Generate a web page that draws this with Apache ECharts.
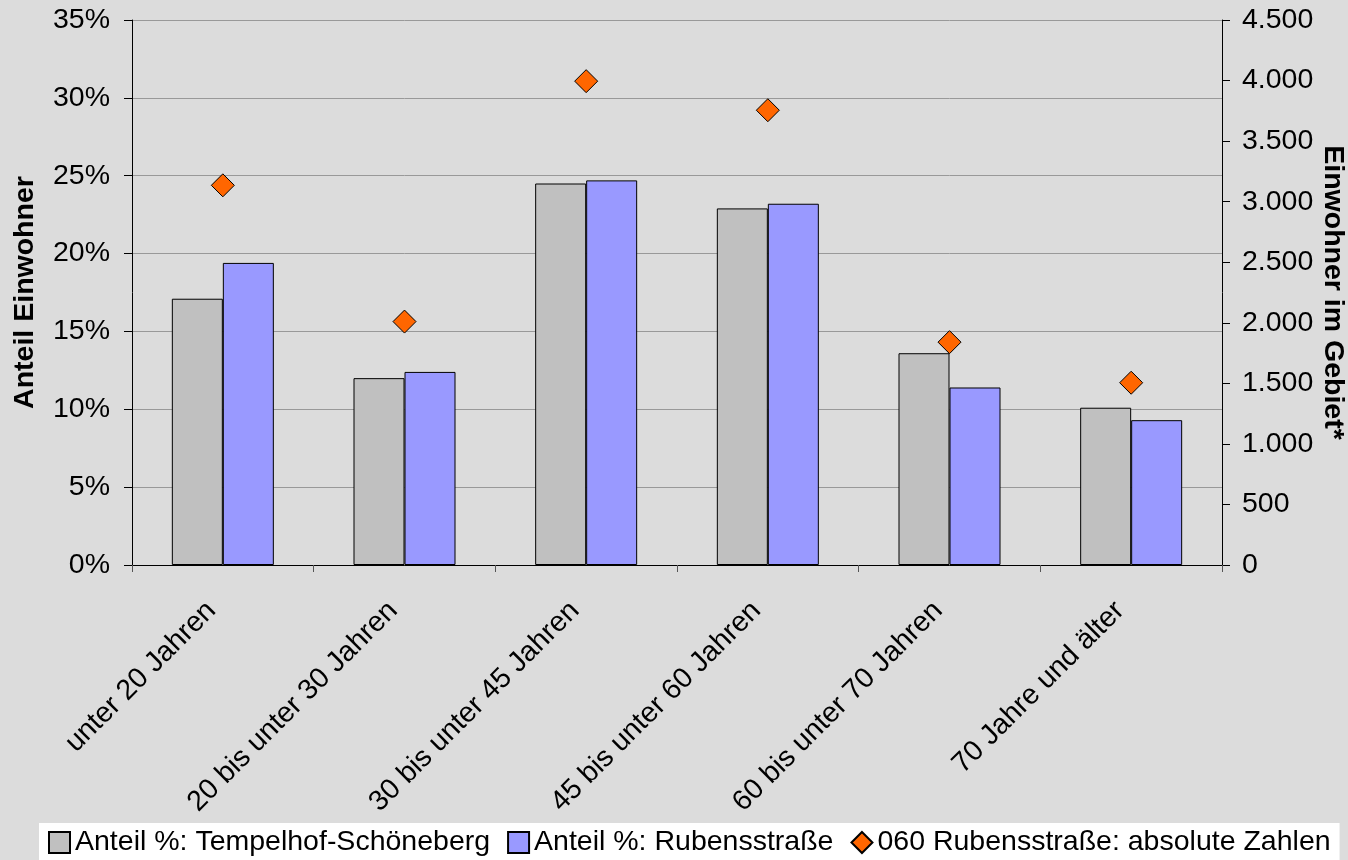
<!DOCTYPE html>
<html>
<head>
<meta charset="utf-8">
<script src="https://cdn.jsdelivr.net/npm/echarts@6/dist/echarts.min.js"></script>
<style>
	html, body { margin: 0; padding: 0; background: #dcdcdc; }
	#chart { width: 1348px; height: 860px; }
</style>
</head>
<body>
<div id="chart"></div>
<script>
var categories = ['unter 20 Jahren', '20 bis unter 30 Jahren', '30 bis unter 45 Jahren',
	'45 bis unter 60 Jahren', '60 bis unter 70 Jahren', '70 Jahre und älter'];
var anteilBezirk = [17.1, 12.0, 24.5, 22.9, 13.6, 10.1];
var anteilRubens = [19.4, 12.4, 24.7, 23.2, 11.4, 9.3];
var absolutRubens = [3135, 2010, 3995, 3755, 1840, 1505];

var font = 'Liberation Sans, Arial, sans-serif';
var fs = 28.5;

function tausender(v) {
	return String(v).replace(/\B(?=(\d{3})+(?!\d))/g, '.');
}

var myChart = echarts.init(document.getElementById('chart'));

var option = {
	backgroundColor: '#dcdcdc',
	textStyle: { fontFamily: font, color: '#000' },
	legend: {
		left: 39,
		top: 823,
		padding: [5, 9, 8, 9],
		backgroundColor: '#fff',
		itemWidth: 21,
		itemHeight: 21,
		itemGap: 17,
		textStyle: { fontFamily: font, fontSize: fs, color: '#000' },
		data: [
			{ name: 'Anteil %: Tempelhof-Schöneberg', icon: 'rect' },
			{ name: 'Anteil %: Rubensstraße', icon: 'rect' },
			{ name: '060 Rubensstraße: absolute Zahlen', icon: 'diamond' }
		]
	},
	grid: {
		left: 132,
		right: 126,
		top: 20,
		bottom: 295,
		containLabel: false,
		outerBoundsMode: 'none'
	},
	xAxis: {
		type: 'category',
		data: categories,
		axisLine: { lineStyle: { color: '#000', width: 1 } },
		axisTick: { show: true, length: 7, lineStyle: { color: '#555' } },
		axisLabel: {
			rotate: 45,
			margin: 30,
			padding: [0, 16, 0, 0],
			fontSize: fs,
			fontFamily: font,
			color: '#000'
		}
	},
	yAxis: [{
		type: 'value',
		min: 0,
		max: 35,
		interval: 5,
		name: 'Anteil Einwohner',
		nameLocation: 'middle',
		nameGap: 92,
		nameMoveOverlap: false,
		nameTextStyle: { fontSize: fs, fontWeight: 'bold', fontFamily: font, color: '#000' },
		axisLine: { show: true, lineStyle: { color: '#000' } },
		axisTick: { show: true, length: 8, lineStyle: { color: '#000' } },
		axisLabel: { formatter: '{value}%', fontSize: fs, margin: 22, color: '#000', fontFamily: font },
		splitLine: { lineStyle: { color: '#999', width: 1 } }
	}, {
		type: 'value',
		min: 0,
		max: 4500,
		interval: 500,
		position: 'right',
		name: 'Einwohner im Gebiet*',
		nameLocation: 'middle',
		nameRotate: -90,
		nameGap: 96,
		nameMoveOverlap: false,
		nameTextStyle: { fontSize: fs, fontWeight: 'bold', fontFamily: font, color: '#000' },
		axisLine: { show: true, lineStyle: { color: '#000' } },
		axisTick: { show: true, length: 8, lineStyle: { color: '#000' } },
		axisLabel: { formatter: tausender, fontSize: fs, margin: 20, color: '#000', fontFamily: font },
		splitLine: { show: false }
	}],
	series: [{
		name: 'Anteil %: Tempelhof-Schöneberg',
		type: 'bar',
		barWidth: 51,
		barGap: '0%',
		itemStyle: { color: '#c0c0c0', borderColor: '#000', borderWidth: 1 },
		data: anteilBezirk
	}, {
		name: 'Anteil %: Rubensstraße',
		type: 'bar',
		barWidth: 51,
		barGap: '0%',
		itemStyle: { color: '#9999ff', borderColor: '#000', borderWidth: 1 },
		data: anteilRubens
	}, {
		name: '060 Rubensstraße: absolute Zahlen',
		type: 'scatter',
		yAxisIndex: 1,
		symbol: 'diamond',
		symbolSize: 23,
		itemStyle: { color: '#ff6600', borderColor: '#000', borderWidth: 1, opacity: 1 },
		data: absolutRubens
	}]
};

myChart.setOption(option);
</script>
</body>
</html>
